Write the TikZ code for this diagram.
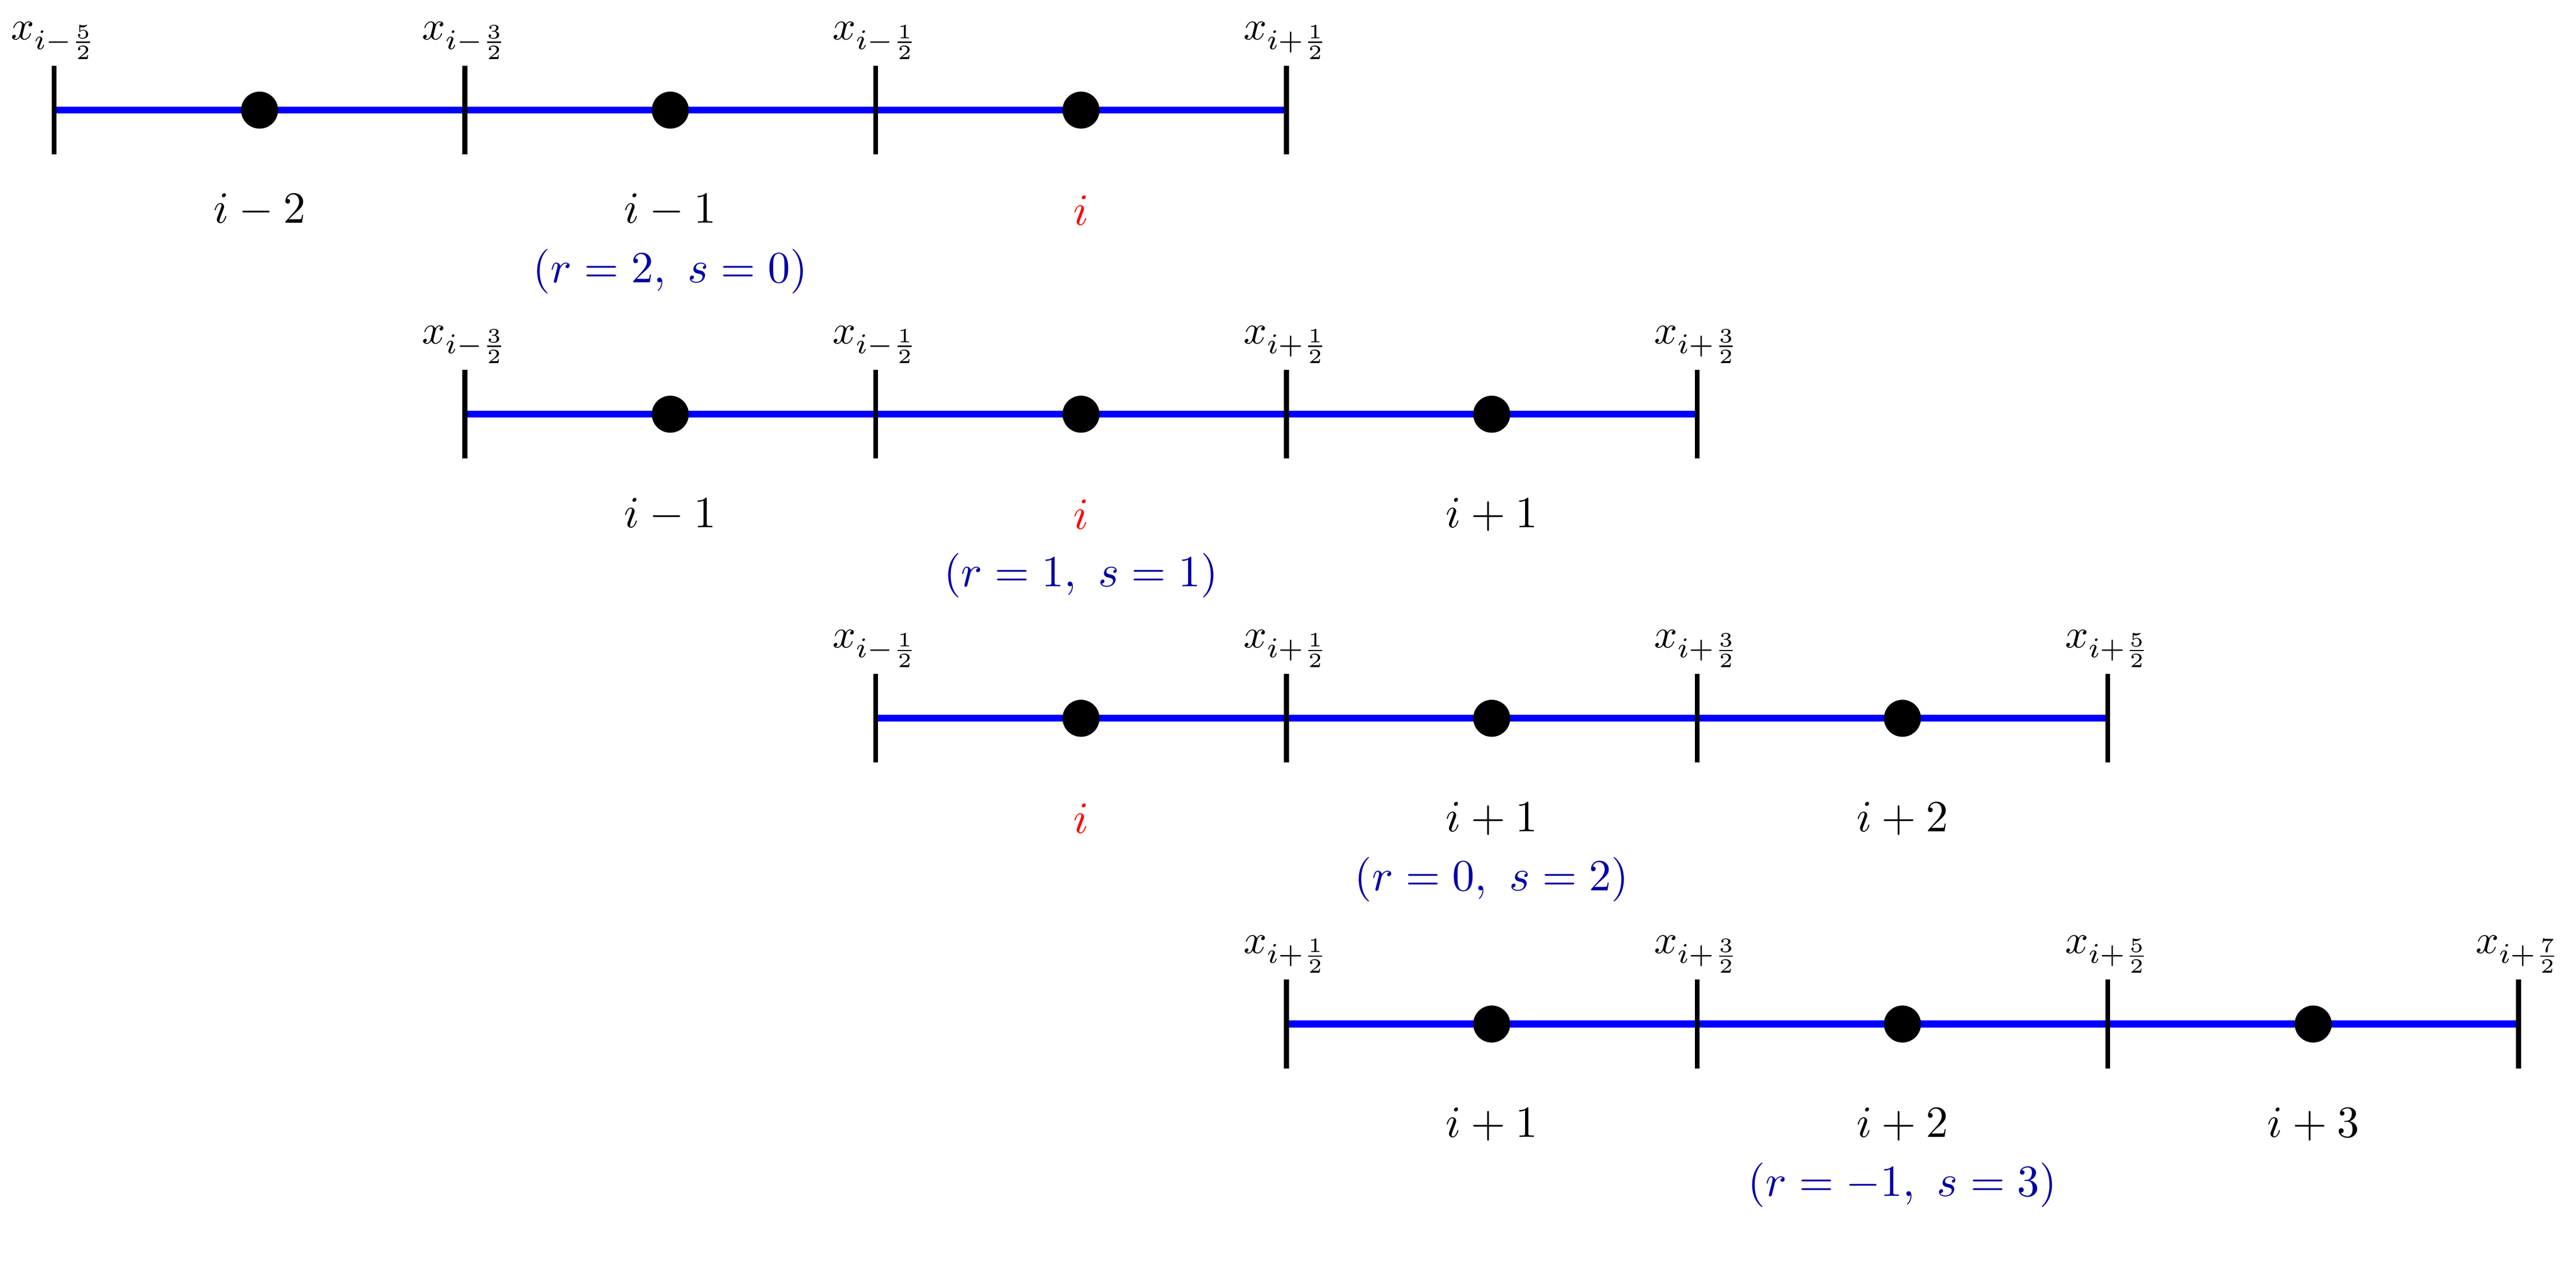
\documentclass[tikz,border=0pt]{standalone}
\usepackage{amsmath}
\begin{document}
\begin{tikzpicture}[x=0.0142cm,y=-0.0142cm,
  seg/.style={blue,line width=1.7pt},
  tick/.style={black,line width=1.2pt},
  dot/.style={circle,fill=black,inner sep=0pt,minimum size=0.32cm},
  lab/.style={font=\fontsize{10.7}{13}\selectfont},
  rs/.style={font=\fontsize{10.7}{13}\selectfont,color=blue!65!black}]
\useasboundingbox (0,0) rectangle (1568,781);
\newcommand{\myrow}[9]{%
  \draw[seg] (#1,#2) -- (#1+750,#2);
  \foreach \k/\t in {0/#3,1/#4,2/#5,3/#6}{
    \draw[tick] (#1+\k*250,#2-27) -- (#1+\k*250,#2+27);
    \node[anchor=south,inner sep=1pt] at (#1+\k*250,#2-28) {$x_{\t}$};
  }
  \foreach \k/\c in {0/#7,1/#8,2/#9}{
    \node[dot] at (#1+125+\k*250,#2) {};
    \node[lab] at (#1+125+\k*250,#2+61) {$\c$};
  }
}
\myrow{33}{67}{i-\frac52}{i-\frac32}{i-\frac12}{i+\frac12}{i-2}{i-1}{\textcolor{red}{i}}
\node[rs] (rs1) at (408,165) {$(r=2,\ s=0)$};
\myrow{283}{252}{i-\frac32}{i-\frac12}{i+\frac12}{i+\frac32}{i-1}{\textcolor{red}{i}}{i+1}
\node[rs] (rs2) at (658,350) {$(r=1,\ s=1)$};
\myrow{533}{437}{i-\frac12}{i+\frac12}{i+\frac32}{i+\frac52}{\textcolor{red}{i}}{i+1}{i+2}
\node[rs] (rs3) at (908,535) {$(r=0,\ s=2)$};
\myrow{783}{623}{i+\frac12}{i+\frac32}{i+\frac52}{i+\frac72}{i+1}{i+2}{i+3}
\node[rs] (rs4) at (1158,721) {$(r=-1,\ s=3)$};
\end{tikzpicture}
\end{document}
